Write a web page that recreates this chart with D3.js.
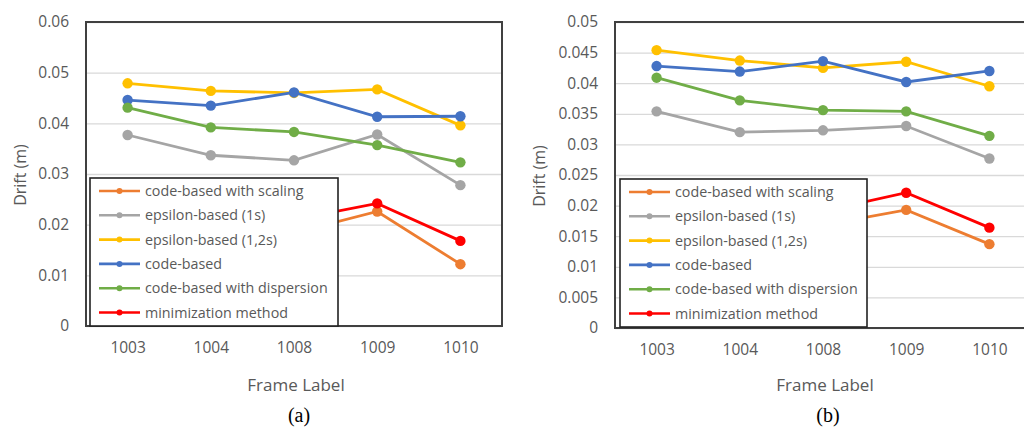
<!DOCTYPE html>
<html>
<head>
<meta charset="utf-8">
<script src="https://cdn.jsdelivr.net/npm/d3@7"></script>
<style>
  body { margin: 0; background: #fff; }
  svg { display: block; }
  text { font-family: "Open Sans", "Noto Sans", sans-serif; }
</style>
</head>
<body>
<div id="chart"></div>
<script>
// frame labels on the x axis
var frames = ["1003", "1004", "1008", "1009", "1010"];

// legend entries, in legend order
var seriesNames = ["code-based with scaling", "epsilon-based (1s)", "epsilon-based (1,2s)",
  "code-based", "code-based with dispersion", "minimization method"];
var seriesColors = ["#ED7D31", "#A5A5A5", "#FFC000", "#4472C4", "#70AD47", "#FF0000"];

// chart (a) values
var scalingA    = [0.0195, 0.0188, 0.0184, 0.0226, 0.0122];
var eps1sA      = [0.0377, 0.0337, 0.0327, 0.0378, 0.0278];
var eps12sA     = [0.0479, 0.0464, 0.0460, 0.0467, 0.0396];
var codeA       = [0.0446, 0.0435, 0.0461, 0.0413, 0.0414];
var dispersionA = [0.0431, 0.0392, 0.0383, 0.0357, 0.0323];
var minimA      = [0.0225, 0.0218, 0.0210, 0.0242, 0.0168];

// chart (b) values
var scalingB    = [0.0180, 0.0172, 0.0168, 0.0193, 0.0137];
var eps1sB      = [0.0354, 0.0320, 0.0323, 0.0330, 0.0277];
var eps12sB     = [0.0454, 0.0437, 0.0425, 0.0435, 0.0395];
var codeB       = [0.0428, 0.0419, 0.0436, 0.0402, 0.0420];
var dispersionB = [0.0409, 0.0372, 0.0356, 0.0354, 0.0314];
var minimB      = [0.0205, 0.0198, 0.0191, 0.0221, 0.0164];

var yTicksA = [0, 0.01, 0.02, 0.03, 0.04, 0.05, 0.06];
var yTicksB = [0, 0.005, 0.01, 0.015, 0.02, 0.025, 0.03, 0.035, 0.04, 0.045, 0.05];

var width = 1024, height = 431;

var svg = d3.select("#chart").append("svg")
  .attr("width", width)
  .attr("height", height);

function fmt(d) {
  return d === 0 ? "0" : String(+d.toFixed(3));
}

function drawChart(o) {
  var g = svg.append("g");
  var plotW = o.right - o.left, plotH = o.bottom - o.top;

  var x = d3.scalePoint().domain(frames).range([o.left, o.right]).padding(0.5);
  var y = d3.scaleLinear().domain([0, d3.max(o.ticks)]).range([o.bottom, o.top]);
  var midX = o.left + 2.5 * x.step();

  // white plot area
  g.append("rect")
    .attr("x", o.left).attr("y", o.top)
    .attr("width", plotW).attr("height", plotH)
    .attr("fill", "#fff");

  // gridlines
  var grid = g.append("g")
    .attr("transform", "translate(" + o.left + ",0)")
    .call(d3.axisLeft(y).tickValues(o.ticks).tickSize(-plotW).tickFormat(""));
  grid.select(".domain").remove();
  grid.selectAll("line").attr("stroke", "#d9d9d9").attr("stroke-width", 1.3);

  // y tick labels
  var yAx = g.append("g")
    .attr("transform", "translate(" + (o.left - 17) + ",0)")
    .call(d3.axisLeft(y).tickValues(o.ticks).tickSize(0).tickPadding(0).tickFormat(fmt));
  yAx.select(".domain").remove();
  yAx.selectAll("text")
    .attr("fill", "#595959")
    .style("font-size", "15.5px")
    .style("font-family", "'Open Sans', sans-serif");

  // x tick labels
  var xAx = g.append("g")
    .attr("transform", "translate(0," + (o.bottom + 16) + ")")
    .call(d3.axisBottom(x).tickSize(0).tickPadding(0));
  xAx.select(".domain").remove();
  xAx.selectAll("text")
    .attr("fill", "#595959")
    .style("font-size", "15.5px")
    .style("font-family", "'Open Sans', sans-serif");

  // lines and markers
  var line = d3.line()
    .x(function (d, i) { return x(frames[i]); })
    .y(function (d) { return y(d); });

  o.series.forEach(function (vals, k) {
    g.append("path")
      .attr("d", line(vals))
      .attr("fill", "none")
      .attr("stroke", seriesColors[k])
      .attr("stroke-width", 2.8);
    g.selectAll(null)
      .data(vals)
      .enter()
      .append("circle")
      .attr("cx", function (d, i) { return x(frames[i]); })
      .attr("cy", function (d) { return y(d); })
      .attr("r", 5.2)
      .attr("fill", seriesColors[k]);
  });

  // plot border
  g.append("rect")
    .attr("x", o.left).attr("y", o.top)
    .attr("width", plotW).attr("height", plotH)
    .attr("fill", "none")
    .attr("stroke", "#404040")
    .attr("stroke-width", 2);

  // legend
  var lg = g.append("g").attr("transform", "translate(" + o.legX + "," + o.legY + ")");
  lg.append("rect")
    .attr("width", o.legW).attr("height", o.legH)
    .attr("fill", "#fff")
    .attr("stroke", "#222")
    .attr("stroke-width", 1.6);
  seriesNames.forEach(function (name, k) {
    var ry = 13 + k * 24.3;
    lg.append("line")
      .attr("x1", 9).attr("x2", 50)
      .attr("y1", ry).attr("y2", ry)
      .attr("stroke", seriesColors[k])
      .attr("stroke-width", 2.6);
    lg.append("circle")
      .attr("cx", 29.5).attr("cy", ry).attr("r", 3)
      .attr("fill", seriesColors[k]);
    lg.append("text")
      .attr("x", 55).attr("y", ry)
      .attr("dy", "0.35em")
      .attr("fill", "#595959")
      .style("font-size", "14.3px")
      .text(name);
  });

  // axis titles
  g.append("text")
    .attr("transform", "translate(" + o.yTitleX + "," + ((o.top + o.bottom) / 2 + 1) + ") rotate(-90)")
    .attr("text-anchor", "middle")
    .attr("fill", "#595959")
    .style("font-size", "16px")
    .text("Drift (m)");

  g.append("text")
    .attr("x", midX + 2)
    .attr("y", 391)
    .attr("text-anchor", "middle")
    .attr("fill", "#595959")
    .style("font-size", "17px")
    .text("Frame Label");

  g.append("text")
    .attr("x", midX + 5)
    .attr("y", 422)
    .attr("text-anchor", "middle")
    .attr("fill", "#000")
    .style("font-family", "'Liberation Serif', 'DejaVu Serif', serif")
    .style("font-size", "20px")
    .text(o.caption);
}

drawChart({
  left: 86, right: 502, top: 22, bottom: 326,
  ticks: yTicksA,
  series: [scalingA, eps1sA, eps12sA, codeA, dispersionA, minimA],
  legX: 90, legY: 178, legW: 248, legH: 148,
  yTitleX: 26,
  caption: "(a)"
});

drawChart({
  left: 615, right: 1031, top: 22, bottom: 328,
  ticks: yTicksB,
  series: [scalingB, eps1sB, eps12sB, codeB, dispersionB, minimB],
  legX: 620, legY: 179, legW: 247, legH: 148,
  yTitleX: 545,
  caption: "(b)"
});
</script>
</body>
</html>
